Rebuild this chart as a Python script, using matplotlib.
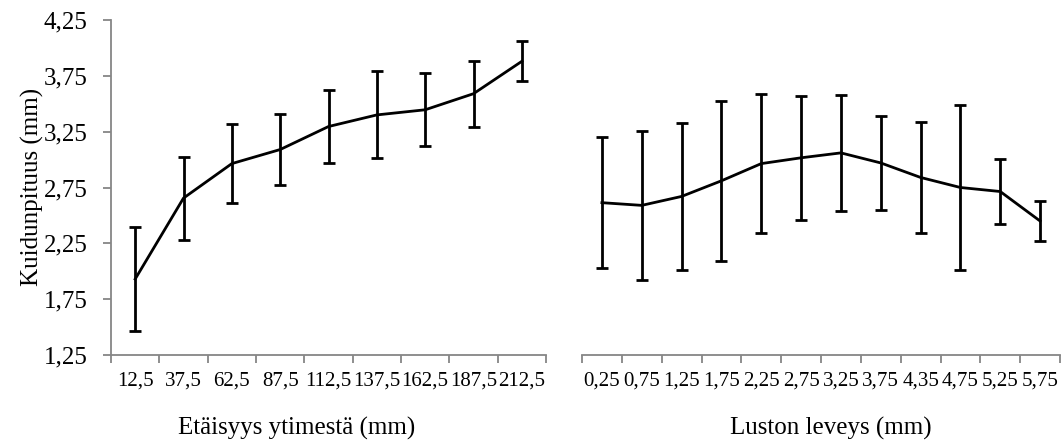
import numpy as np
import matplotlib
matplotlib.use("Agg")
import matplotlib.pyplot as plt
from matplotlib.ticker import FixedLocator, NullFormatter, FixedFormatter

plt.rcParams['font.family'] = ['Liberation Serif', 'DejaVu Serif']

# vasen: etaisyys ytimesta
dist_labels = ['12,5', '37,5', '62,5', '87,5', '112,5', '137,5', '162,5', '187,5', '212,5']
dist_mean = [1.93, 2.655, 2.964, 3.09, 3.296, 3.40, 3.446, 3.59, 3.88]
dist_sd = [0.466, 0.372, 0.354, 0.316, 0.326, 0.389, 0.328, 0.295, 0.18]

# oikea: luston leveys
ring_labels = ['0,25', '0,75', '1,25', '1,75', '2,25', '2,75', '3,25', '3,75',
               '4,35', '4,75', '5,25', '5,75']
ring_mean = [2.614, 2.59, 2.67, 2.81, 2.964, 3.016, 3.06, 2.97, 2.84, 2.75, 2.714, 2.45]
ring_sd = [0.585, 0.67, 0.656, 0.718, 0.622, 0.555, 0.52, 0.4225, 0.497, 0.74, 0.29, 0.18]

yticks = [1.25, 1.75, 2.25, 2.75, 3.25, 3.75, 4.25]
ytick_labels = ['1,25', '1,75', '2,25', '2,75', '3,25', '3,75', '4,25']

axis_col = '#868686'
W, H = 1063, 443

fig = plt.figure(figsize=(W / 100, H / 100), dpi=100)
ax1 = fig.add_axes([111 / W, 1 - 355 / H, 435 / W, 335 / H])
ax2 = fig.add_axes([582 / W, 1 - 355 / H, 478 / W, 335 / H])


def draw(ax, labels, mean, sd, show_y):
    n = len(labels)
    x = np.arange(n)
    ax.errorbar(x, mean, yerr=sd, color='black', lw=2, elinewidth=2,
                capsize=4, capthick=2)
    ax.set_xlim(-0.5, n - 0.5)
    ax.set_ylim(1.25, 4.25)
    for s in ['top', 'right']:
        ax.spines[s].set_visible(False)
    ax.spines['bottom'].set_color(axis_col)
    ax.spines['bottom'].set_linewidth(1.3)
    # tick marks between categories, labels at centres
    ax.xaxis.set_major_locator(FixedLocator(np.arange(n + 1) - 0.5))
    ax.xaxis.set_major_formatter(NullFormatter())
    ax.xaxis.set_minor_locator(FixedLocator(x))
    ax.xaxis.set_minor_formatter(FixedFormatter(labels))
    ax.tick_params(axis='x', which='major', length=6, width=1.3, color=axis_col)
    ax.tick_params(axis='x', which='minor', length=0, pad=12, labelsize=15)
    if show_y:
        ax.spines['left'].set_color(axis_col)
        ax.spines['left'].set_linewidth(1.3)
        ax.set_yticks(yticks)
        ax.set_yticklabels(ytick_labels)
        ax.tick_params(axis='y', length=6, width=1.3, color=axis_col,
                       pad=11, labelsize=18)
    else:
        ax.spines['left'].set_visible(False)
        ax.set_yticks([])


draw(ax1, dist_labels, dist_mean, dist_sd, True)
draw(ax2, ring_labels, ring_mean, ring_sd, False)

fig.text(32 / W, 1 - 187 / H, 'Kuidunpituus (mm)', fontsize=18,
         rotation=90, ha='center', va='center')
fig.text(297 / W, 1 - 428 / H, 'Etäisyys ytimestä (mm)', fontsize=18,
         ha='center', va='center')
fig.text(831 / W, 1 - 428 / H, 'Luston leveys (mm)', fontsize=18,
         ha='center', va='center')

fig.savefig('out.png', dpi=100)
